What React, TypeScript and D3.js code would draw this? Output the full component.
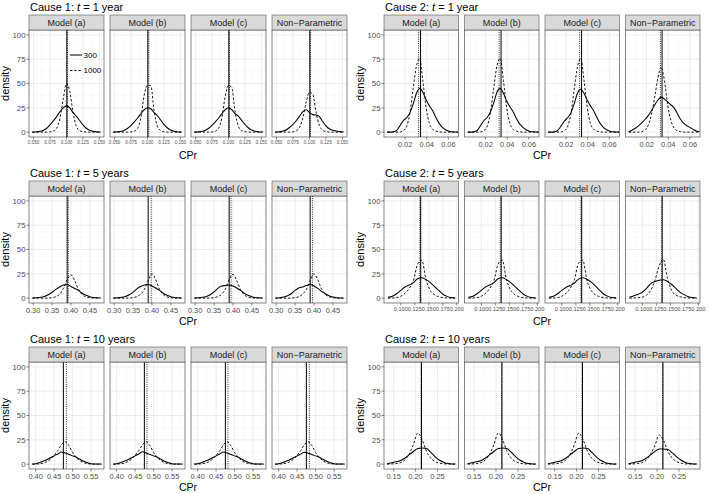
import React from "react";
import * as d3 from "d3";

// ---------- data ----------
const facetNames = ["Model (a)", "Model (b)", "Model (c)", "Non\u2212Parametric"];
const sampleSizes = ["300", "1000"];
const yTicks = [0, 25, 50, 75, 100];

// Cause 1, t = 1 year
const c1t1X = [0.048, 0.055, 0.06, 0.065, 0.07, 0.075, 0.08, 0.085, 0.09, 0.095, 0.1, 0.105, 0.11, 0.115, 0.12, 0.125, 0.13, 0.135, 0.14, 0.145, 0.152];
const c1t1N300 = [
  [0, 0.3, 0.8, 2, 4, 7.5, 11.5, 16, 21, 25, 27, 25, 20, 16.5, 12, 7.5, 4, 2, 1, 0.5, 0.2],
  [0, 0.3, 0.8, 2, 4, 7, 10.5, 14.5, 19, 23, 25, 24, 20, 17, 12.5, 8, 4.5, 2.2, 1, 0.4, 0.1],
  [0, 0.3, 0.8, 2, 4, 7, 10.5, 14.5, 19, 23, 25, 23, 19, 16.5, 12, 8, 4.5, 2.2, 1, 0.4, 0.1],
  [0, 0.5, 1.2, 2.5, 5, 8, 12, 16.5, 21, 23, 20, 18, 17.5, 16, 11, 6.5, 3.5, 2, 1.2, 0.6, 0.2],
];
const c1t1N1000 = [
  [0, 0, 0, 0, 0, 0.3, 1, 4, 14, 34, 50, 42, 20, 6, 1.5, 0.4, 0.1, 0, 0, 0, 0],
  [0, 0, 0, 0, 0, 0.2, 1, 4, 15, 38, 48, 48, 22, 6, 1.5, 0.4, 0.1, 0, 0, 0, 0],
  [0, 0, 0, 0, 0, 0.2, 1, 4, 15, 37, 48, 46, 21, 6, 1.5, 0.4, 0.1, 0, 0, 0, 0],
  [0, 0, 0, 0, 0, 0.3, 1.5, 5, 15, 31, 41, 39, 20, 7, 2, 0.5, 0.1, 0, 0, 0, 0],
];
const c1t1Ticks = [0.05, 0.075, 0.1, 0.125, 0.15];
const c1t1Truth = [0.1005, 0.1005, 0.1005, 0.1005];
const c1t1Mean = [0.1015, 0.102, 0.1015, 0.1015];

// Cause 2, t = 1 year
const c2t1X = [0.0035, 0.0065, 0.0095, 0.0125, 0.0155, 0.0185, 0.0215, 0.0245, 0.0275, 0.0305, 0.0335, 0.0365, 0.0395, 0.0425, 0.0455, 0.0485, 0.0515, 0.0545, 0.0575, 0.0605, 0.0635, 0.0665, 0.069];
const c2t1N300 = [
  [0, 0, 0.3, 2, 7, 12, 15, 20, 29, 40, 45, 41, 33, 27, 22, 15, 9, 5, 2.5, 1, 0.3, 0.1, 0],
  [0, 0, 0.3, 2, 7, 12, 15, 21, 30, 41, 45, 40, 32, 26, 21, 14, 8.5, 5, 2.5, 1, 0.3, 0.1, 0],
  [0, 0, 0.3, 2, 6.5, 11.5, 15, 20, 29, 40, 44, 40, 33, 27, 22, 15, 9, 5, 2.5, 1, 0.3, 0.1, 0],
  [0.5, 2, 4, 6.5, 9.5, 13, 17, 22, 28, 33, 36, 34, 31, 28, 25, 19, 13, 9, 6.5, 4.5, 2.5, 1, 0.3],
];
const c2t1N1000 = [
  [0, 0, 0, 0, 0.2, 1.5, 6, 20, 45, 68, 76, 52, 25, 9, 3, 1, 0.3, 0, 0, 0, 0, 0, 0],
  [0, 0, 0, 0, 0.2, 1.5, 6, 20, 45, 68, 76, 53, 25, 9, 3, 1, 0.3, 0, 0, 0, 0, 0, 0],
  [0, 0, 0, 0, 0.2, 1.5, 6, 19, 44, 67, 76, 54, 26, 9, 3, 1, 0.3, 0, 0, 0, 0, 0, 0],
  [0, 0, 0, 0, 0.5, 2, 7, 18, 36, 56, 67, 53, 28, 12, 4, 1.5, 0.5, 0.1, 0, 0, 0, 0, 0],
];
const c2t1Ticks = [0.02, 0.04, 0.06];
const c2t1Truth = [0.0343, 0.0343, 0.0343, 0.0343];
const c2t1Mean = [0.0325, 0.0325, 0.0325, 0.0328];

// Cause 1, t = 5 years
const c1t5X = [0.298, 0.31, 0.32, 0.33, 0.34, 0.35, 0.36, 0.37, 0.38, 0.39, 0.4, 0.41, 0.42, 0.43, 0.44, 0.45, 0.46, 0.47, 0.478];
const c1t5N300 = [
  [0.1, 0.3, 0.8, 1.8, 3.5, 6, 9, 11.5, 13.5, 14, 12, 10, 8, 5, 3, 1.5, 0.7, 0.3, 0.1],
  [0.1, 0.3, 0.8, 1.8, 3.5, 6, 9.5, 12, 13.5, 14, 12.5, 10.5, 8, 5, 3, 1.5, 0.7, 0.3, 0.1],
  [0.1, 0.3, 0.8, 1.8, 3.5, 6.5, 10, 12.5, 13, 13.5, 12.5, 10.5, 8, 5, 3, 1.5, 0.7, 0.3, 0.1],
  [0.2, 0.5, 1.2, 2.5, 4.5, 8, 10.5, 11.5, 13, 14, 12.5, 10, 7, 4.5, 2.5, 1.2, 0.5, 0.2, 0.1],
];
const c1t5N1000 = [
  [0, 0, 0, 0, 0.1, 0.5, 1.5, 4, 10, 19, 24, 18, 9, 3.5, 1.2, 0.4, 0.1, 0, 0],
  [0, 0, 0, 0, 0.1, 0.5, 1.5, 4, 9, 18, 25, 19, 9, 3.5, 1.2, 0.4, 0.1, 0, 0],
  [0, 0, 0, 0, 0.1, 0.5, 1.5, 4, 9.5, 19, 24.5, 18, 9, 3.5, 1.2, 0.4, 0.1, 0, 0],
  [0, 0, 0, 0, 0.1, 0.5, 1.5, 4, 9, 18, 25, 19, 9.5, 4, 1.5, 0.5, 0.1, 0, 0],
];
const c1t5Ticks = [0.3, 0.35, 0.4, 0.45];
const c1t5Truth = [0.39, 0.39, 0.39, 0.39];
const c1t5Mean = [0.393, 0.398, 0.395, 0.396];

// Cause 2, t = 5 years
const c2t5X = [0.077, 0.085, 0.0925, 0.1, 0.1075, 0.115, 0.1225, 0.13, 0.1375, 0.145, 0.1525, 0.16, 0.1675, 0.175, 0.1825, 0.19, 0.197];
const c2t5N300 = [
  [0.8, 2, 4.5, 8, 11.5, 13.5, 16, 20, 21, 19, 16, 12, 8, 4, 1.8, 0.6, 0.2],
  [0.8, 2, 4.5, 8, 11.5, 13.5, 16, 20, 21, 19, 16, 12, 8, 4, 1.8, 0.6, 0.2],
  [0.8, 2, 4.5, 8, 11, 13, 15.5, 19.5, 21, 19.5, 16.5, 12.5, 8, 4, 1.8, 0.6, 0.2],
  [0.8, 2.5, 4, 6, 10, 15, 17, 18.5, 19, 17, 14, 10, 6, 3.5, 1.5, 0.6, 0.2],
];
const c2t5N1000 = [
  [0, 0.1, 0.5, 2, 5, 10, 18, 35, 39, 19, 8, 3.5, 1.5, 0.5, 0.2, 0, 0],
  [0, 0.1, 0.5, 2, 5, 10, 18, 35, 39, 19, 8, 3.5, 1.5, 0.5, 0.2, 0, 0],
  [0, 0.1, 0.5, 2, 5, 10, 19, 36, 39, 18, 8, 3.5, 1.5, 0.5, 0.2, 0, 0],
  [0, 0.1, 0.5, 1, 3, 8, 18, 33, 40, 20, 8, 3, 1.5, 0.5, 0.2, 0, 0],
];
const c2t5Ticks = [0.1, 0.125, 0.15, 0.175, 0.2];
const c2t5Truth = [0.1355, 0.1355, 0.1355, 0.1355];
const c2t5Mean = [0.134, 0.134, 0.134, 0.1345];

// Cause 1, t = 10 years
const c1t10X = [0.391, 0.4, 0.41, 0.42, 0.43, 0.44, 0.45, 0.46, 0.47, 0.48, 0.49, 0.5, 0.51, 0.52, 0.53, 0.54, 0.55, 0.56, 0.57, 0.578];
const c1t10N300 = [
  [0, 0.5, 1.5, 3, 4.5, 6.5, 8.5, 10.5, 12.5, 11.5, 10, 8.5, 7, 5, 3, 1.5, 0.5, 0.2, 0.1, 0],
  [0, 0.5, 1.5, 3, 4.5, 6.5, 8.5, 10.5, 12.8, 11.5, 10, 8.5, 7, 5, 3, 1.5, 0.5, 0.2, 0.1, 0],
  [0, 0.5, 1.5, 3, 4.5, 6.5, 8.5, 10.5, 12.5, 11.5, 10, 8.5, 7, 5, 3, 1.5, 0.5, 0.2, 0.1, 0],
  [0, 0.5, 1.5, 3, 4.5, 6.5, 8.5, 10.5, 12.3, 11.3, 10, 8.5, 7, 5, 3, 1.5, 0.5, 0.2, 0.1, 0],
];
const c1t10N1000 = [
  [0, 0.1, 0.3, 1, 2.5, 5, 9, 14, 20, 23, 19, 12, 7, 3.5, 1.5, 0.5, 0.2, 0, 0, 0],
  [0, 0.1, 0.3, 1, 2.5, 5, 9, 14, 20, 23, 19, 12, 7, 3.5, 1.5, 0.5, 0.2, 0, 0, 0],
  [0, 0.1, 0.3, 1, 2.5, 5, 9, 14, 20, 23, 19, 12, 7, 3.5, 1.5, 0.5, 0.2, 0, 0, 0],
  [0, 0.1, 0.3, 1, 2.5, 5, 9, 14, 20, 23, 19, 12, 7, 3.5, 1.5, 0.5, 0.2, 0, 0, 0],
];
const c1t10Ticks = [0.4, 0.45, 0.5, 0.55];
const c1t10Truth = [0.475, 0.475, 0.475, 0.475];
const c1t10Mean = [0.483, 0.482, 0.482, 0.483];

// Cause 2, t = 10 years
const c2t10X = [0.135, 0.145, 0.155, 0.165, 0.175, 0.185, 0.195, 0.205, 0.215, 0.225, 0.235, 0.245, 0.255, 0.265, 0.275, 0.285, 0.291];
const c2t10N300 = [
  [0.5, 1.5, 2.5, 3.5, 6, 9.5, 13, 16, 16.5, 16, 12, 7.5, 4, 1.8, 0.6, 0.2, 0.1],
  [0.5, 1.5, 2.5, 3.5, 6, 9.5, 13, 16, 16.5, 16, 12, 7.5, 4, 1.8, 0.6, 0.2, 0.1],
  [0.5, 1.5, 2.5, 3.5, 6, 9.5, 13, 16, 16.5, 16, 12, 7.5, 4, 1.8, 0.6, 0.2, 0.1],
  [0.5, 1.5, 2.5, 3.5, 6, 9.5, 13, 15.5, 15.5, 15, 11.5, 7.5, 4, 1.8, 0.6, 0.2, 0.1],
];
const c2t10N1000 = [
  [0, 0.2, 0.6, 1.5, 4, 10, 20, 32, 25, 13, 6, 2.5, 1, 0.3, 0.1, 0, 0],
  [0, 0.2, 0.6, 1.5, 4, 10, 20, 32, 25, 13, 6, 2.5, 1, 0.3, 0.1, 0, 0],
  [0, 0.2, 0.6, 1.5, 4, 10, 20, 32, 25, 13, 6, 2.5, 1, 0.3, 0.1, 0, 0],
  [0, 0.2, 0.6, 1.5, 4, 10, 19, 30, 24, 13, 6, 2.5, 1, 0.3, 0.1, 0, 0],
];
const c2t10Ticks = [0.15, 0.2, 0.25];
const c2t10Truth = [0.2135, 0.2135, 0.2135, 0.2135];
const c2t10Mean = [0.2125, 0.2125, 0.2125, 0.2125];

// ---------- layout ----------
const FONT = "'Liberation Sans', Arial, Helvetica, sans-serif";
const ROW_TOPS = [0, 166, 332];
const COL_LEFT = [29, 384];
const COL_RIGHT = [347, 700];
const GAP = 6;

type Cfg = {
  cause: string; time: string; row: number; col: number;
  xs: number[]; n300: number[][]; n1000: number[][];
  domain: [number, number]; ticks: number[]; fmt: string; tickFont: number;
  truth: number[]; mean: number[]; legend?: boolean;
};

const panels: Cfg[] = [
  { cause: "1", time: "1 year", row: 0, col: 0, xs: c1t1X, n300: c1t1N300, n1000: c1t1N1000, domain: [0.043, 0.157], ticks: c1t1Ticks, fmt: ".3f", tickFont: 4.6, truth: c1t1Truth, mean: c1t1Mean, legend: true },
  { cause: "2", time: "1 year", row: 0, col: 1, xs: c2t1X, n300: c2t1N300, n1000: c2t1N1000, domain: [0.0005, 0.0694], ticks: c2t1Ticks, fmt: ".2f", tickFont: 7.4, truth: c2t1Truth, mean: c2t1Mean },
  { cause: "1", time: "5 years", row: 1, col: 0, xs: c1t5X, n300: c1t5N300, n1000: c1t5N1000, domain: [0.289, 0.4875], ticks: c1t5Ticks, fmt: ".2f", tickFont: 7.4, truth: c1t5Truth, mean: c1t5Mean },
  { cause: "2", time: "5 years", row: 1, col: 1, xs: c2t5X, n300: c2t5N300, n1000: c2t5N1000, domain: [0.07, 0.203], ticks: c2t5Ticks, fmt: ".3f", tickFont: 5.6, truth: c2t5Truth, mean: c2t5Mean },
  { cause: "1", time: "10 years", row: 2, col: 0, xs: c1t10X, n300: c1t10N300, n1000: c1t10N1000, domain: [0.382, 0.585], ticks: c1t10Ticks, fmt: ".2f", tickFont: 7.4, truth: c1t10Truth, mean: c1t10Mean },
  { cause: "2", time: "10 years", row: 2, col: 1, xs: c2t10X, n300: c2t10N300, n1000: c2t10N1000, domain: [0.128, 0.298], ticks: c2t10Ticks, fmt: ".2f", tickFont: 7.4, truth: c2t10Truth, mean: c2t10Mean },
];

const BORDER = "#333333";
const GRID = "#ebebeb";
const GRID_MINOR = "#f4f4f4";
const AXIS_TXT = "#4d4d4d";

function Panel({ cfg }: { cfg: Cfg }) {
  const r = ROW_TOPS[cfg.row];
  const left = COL_LEFT[cfg.col];
  const right = COL_RIGHT[cfg.col];
  const fw = (right - left - 3 * GAP) / 4;
  const top = r + 30;
  const bottom = r + 137;
  const y = d3.scaleLinear().domain([-5, 105]).range([bottom, top]);
  const fmt = d3.format(cfg.fmt);
  const step = cfg.ticks[1] - cfg.ticks[0];
  const minorX: number[] = [];
  for (let v = cfg.ticks[0] - step / 2; v <= cfg.domain[1]; v += step) {
    if (v >= cfg.domain[0]) minorX.push(v);
  }
  const minorY = [12.5, 37.5, 62.5, 87.5];

  return (
    <g>
      <text x={left + 1} y={r + 10.5} fontSize={11} fill="#000" fontFamily={FONT}>
        {`Cause ${cfg.cause}: `}
        <tspan fontStyle="italic">t</tspan>
        {` = ${cfg.time}`}
      </text>
      <text
        transform={`translate(${left - 20},${(top + bottom) / 2}) rotate(-90)`}
        textAnchor="middle" fontSize={11} fill="#000" fontFamily={FONT}
      >density</text>
      {yTicks.map((t) => (
        <g key={t}>
          <line x1={left - 2.5} x2={left} y1={y(t)} y2={y(t)} stroke={BORDER} strokeWidth={0.6} />
          <text x={left - 3.5} y={y(t)} dy="0.35em" textAnchor="end" fontSize={7.8} fill={AXIS_TXT} fontFamily={FONT}>{t}</text>
        </g>
      ))}
      <text x={(left + right) / 2} y={r + 159} textAnchor="middle" fontSize={10.5} fill="#000" fontFamily={FONT}>CPr</text>
      {facetNames.map((name, i) => {
        const fx = left + i * (fw + GAP);
        const x = d3.scaleLinear().domain(cfg.domain).range([fx, fx + fw]);
        const line = d3.line<number>()
          .x((_, k) => x(cfg.xs[k]))
          .y((d) => y(d))
          .curve(d3.curveMonotoneX);
        return (
          <g key={name}>
            <rect x={fx} y={top} width={fw} height={bottom - top} fill="#fff" />
            {minorX.map((v) => (
              <line key={"mx" + v} x1={x(v)} x2={x(v)} y1={top} y2={bottom} stroke={GRID_MINOR} strokeWidth={0.5} />
            ))}
            {minorY.map((v) => (
              <line key={"my" + v} x1={fx} x2={fx + fw} y1={y(v)} y2={y(v)} stroke={GRID_MINOR} strokeWidth={0.5} />
            ))}
            {cfg.ticks.map((v) => (
              <line key={"gx" + v} x1={x(v)} x2={x(v)} y1={top} y2={bottom} stroke={GRID} strokeWidth={0.9} />
            ))}
            {yTicks.map((v) => (
              <line key={"gy" + v} x1={fx} x2={fx + fw} y1={y(v)} y2={y(v)} stroke={GRID} strokeWidth={0.9} />
            ))}
            <path d={line(cfg.n300[i]) || ""} fill="none" stroke="#000" strokeWidth={1.05} />
            <path d={line(cfg.n1000[i]) || ""} fill="none" stroke="#000" strokeWidth={0.9} strokeDasharray="2.4,1.8" />
            <line x1={x(cfg.truth[i])} x2={x(cfg.truth[i])} y1={top} y2={bottom} stroke="#000" strokeWidth={1} />
            <line x1={x(cfg.mean[i])} x2={x(cfg.mean[i])} y1={top} y2={bottom} stroke="#000" strokeWidth={0.9} strokeDasharray="0.9,1.3" />
            <rect x={fx} y={top} width={fw} height={bottom - top} fill="none" stroke={BORDER} strokeWidth={0.8} opacity={0.75} />
            <rect x={fx} y={r + 15} width={fw} height={15} fill="#d9d9d9" stroke={BORDER} strokeWidth={0.8} strokeOpacity={0.6} />
            <text x={fx + fw / 2} y={r + 25.7} textAnchor="middle" fontSize={9} fill="#1a1a1a" fontFamily={FONT}>{name}</text>
            {cfg.ticks.map((v) => (
              <g key={"t" + v}>
                <line x1={x(v)} x2={x(v)} y1={bottom} y2={bottom + 2.5} stroke={BORDER} strokeWidth={0.6} />
                <text x={x(v)} y={bottom + 3.8 + cfg.tickFont * 0.78} textAnchor="middle" fontSize={cfg.tickFont} fill={AXIS_TXT} fontFamily={FONT}>{fmt(v)}</text>
              </g>
            ))}
            {cfg.legend && i === 0 && (
              <g>
                <line x1={fx + 41} x2={fx + 53} y1={r + 55} y2={r + 55} stroke="#000" strokeWidth={1.05} />
                <text x={fx + 54.5} y={r + 55} dy="0.35em" fontSize={8} fill="#000" fontFamily={FONT}>{sampleSizes[0]}</text>
                <line x1={fx + 41} x2={fx + 53} y1={r + 70.5} y2={r + 70.5} stroke="#000" strokeWidth={0.9} strokeDasharray="2.4,1.8" />
                <text x={fx + 54.5} y={r + 70.5} dy="0.35em" fontSize={8} fill="#000" fontFamily={FONT}>{sampleSizes[1]}</text>
              </g>
            )}
          </g>
        );
      })}
    </g>
  );
}

export default function App() {
  return (
    <svg
      width={709}
      height={494}
      viewBox="0 0 709 494"
      style={{ position: "absolute", left: 0, top: 0, background: "#fff" }}
    >
      <rect x={0} y={0} width={709} height={494} fill="#fff" />
      {panels.map((p, i) => (
        <Panel key={i} cfg={p} />
      ))}
    </svg>
  );
}
